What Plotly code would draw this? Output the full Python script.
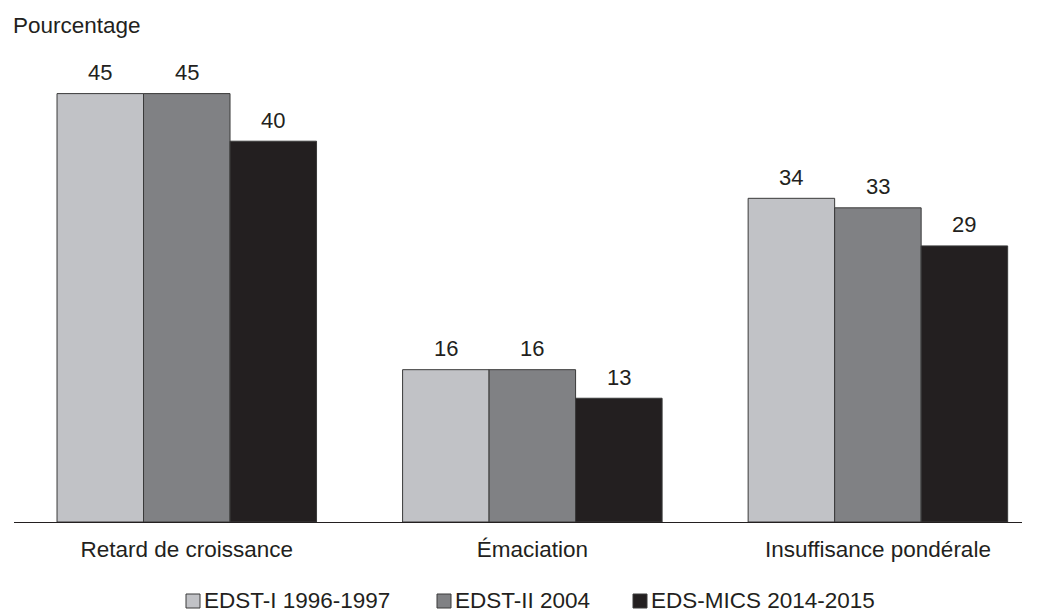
import plotly.graph_objects as go

categories = ["Retard de croissance", "Émaciation", "Insuffisance pondérale"]
series_names = ["EDST-I 1996-1997", "EDST-II 2004", "EDS-MICS 2014-2015"]
edst1 = [45, 16, 34]
edst2 = [45, 16, 33]
edsmics = [40, 13, 29]
series_values = [edst1, edst2, edsmics]

colors = ["#c1c2c6", "#808184", "#231f20"]
outline = "#3a3a3a"
font_family = "Liberation Sans, Arial, sans-serif"
text_color = "#231f20"

# figure geometry (pixels)
W, H = 1037, 614
M_L, M_R, M_T, M_B = 14, 15, 46, 92
PLOT_W = W - M_L - M_R
PLOT_H = H - M_T - M_B
BARGAP = 0.249
Y_MAX = 50


def paper_x(px):
    return (px - M_L) / PLOT_W


def paper_y(py):
    return (H - M_B - py) / PLOT_H


x_pos = list(range(len(categories)))
n_series = len(series_names)
bar_w = (1 - BARGAP) / n_series

fig = go.Figure()
for name, vals, col in zip(series_names, series_values, colors):
    fig.add_trace(go.Bar(
        x=x_pos,
        y=vals,
        name=name,
        marker=dict(color=col, line=dict(color=outline, width=1)),
        showlegend=False,
    ))

annotations = []
# value labels above each bar
for i, vals in enumerate(series_values):
    offset = (i - (n_series - 1) / 2) * bar_w
    for xi, v in zip(x_pos, vals):
        annotations.append(dict(
            x=xi + offset, y=v, xref="x", yref="y",
            text=str(v), showarrow=False,
            xanchor="center", yanchor="middle", yshift=21,
            font=dict(size=22, color=text_color),
        ))

# axis title-style label
annotations.append(dict(
    text="Pourcentage",
    xref="paper", yref="paper",
    x=paper_x(11), y=paper_y(26),
    xanchor="left", yanchor="middle",
    showarrow=False,
    font=dict(size=22.5, color=text_color),
))

# legend drawn as swatches + labels along the bottom
legend_swatch_px = [186, 437, 633]
SW = 14
legend_cy = 601
shapes = []
for name, col, sx in zip(series_names, colors, legend_swatch_px):
    shapes.append(dict(
        type="rect", xref="paper", yref="paper",
        x0=paper_x(sx), x1=paper_x(sx + SW),
        y0=paper_y(legend_cy + SW / 2), y1=paper_y(legend_cy - SW / 2),
        fillcolor=col, line=dict(color=outline, width=1),
    ))
    annotations.append(dict(
        text=name, xref="paper", yref="paper",
        x=paper_x(sx + SW + 2), y=paper_y(legend_cy - 1),
        xanchor="left", yanchor="middle", showarrow=False,
        font=dict(size=22.5, color=text_color),
    ))

fig.update_layout(
    width=W,
    height=H,
    barmode="group",
    bargap=BARGAP,
    bargroupgap=0,
    plot_bgcolor="white",
    paper_bgcolor="white",
    margin=dict(l=M_L, r=M_R, t=M_T, b=M_B),
    font=dict(family=font_family, color=text_color, size=22),
    showlegend=False,
    xaxis=dict(
        tickmode="array",
        tickvals=x_pos,
        ticktext=categories,
        range=[-0.5, 2.417],
        showline=True,
        linecolor="#231f20",
        linewidth=1,
        showgrid=False,
        zeroline=False,
        ticks="",
        ticklabelstandoff=7,
        tickfont=dict(size=22.5, color=text_color),
    ),
    yaxis=dict(
        range=[0, Y_MAX],
        showticklabels=False,
        showgrid=False,
        zeroline=False,
        showline=False,
        ticks="",
    ),
    shapes=shapes,
    annotations=annotations,
)

fig.write_html("out.html")
